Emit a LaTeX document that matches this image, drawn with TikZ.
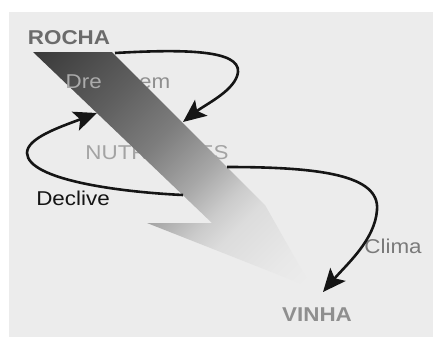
\documentclass[tikz,border=0pt]{standalone}
\usepackage{fontspec}
\setmainfont{Liberation Sans}[FakeStretch=1.12]
\usetikzlibrary{arrows.meta}

\definecolor{paper}{HTML}{ECECEC}
\definecolor{titlegray}{HTML}{6B6B6B}
\definecolor{softgray}{HTML}{8F8F8F}
\definecolor{palegray}{HTML}{A3A3A3}
\definecolor{inkblack}{HTML}{151515}

% gradient of the big lightning arrow, dark at the tail, fading out at the tip
\pgfdeclareverticalshading{boltshade}{100bp}{%
  color(0bp)=(paper); color(16bp)=(paper);
  color(22bp)=(rgb,255:red,232;green,232;blue,232);
  color(33bp)=(rgb,255:red,220;green,220;blue,220);
  color(38bp)=(rgb,255:red,203;green,203;blue,203);
  color(45bp)=(rgb,255:red,168;green,168;blue,168);
  color(50bp)=(rgb,255:red,148;green,148;blue,148);
  color(56bp)=(rgb,255:red,125;green,125;blue,125);
  color(68bp)=(rgb,255:red,95;green,95;blue,95);
  color(75bp)=(rgb,255:red,80;green,80;blue,80);
  color(86bp)=(rgb,255:red,56;green,56;blue,56);
  color(100bp)=(rgb,255:red,56;green,56;blue,56)}

\begin{document}
\begin{tikzpicture}[x=1bp,y=-1bp,
  lbl/.style={inner sep=0pt, anchor=base, font=\fontsize{20bp}{22bp}\selectfont},
  title/.style={lbl, text=titlegray, font=\fontsize{20bp}{22bp}\selectfont\bfseries},
  cycle/.style={draw=inkblack, line width=2.6bp,
    -{Stealth[length=23bp,width=20bp,inset=5bp]}}]
  \useasboundingbox (0,0) rectangle (433,337);
  \fill[white] (0,0) rectangle (433,337);
  \fill[paper] (9,12) rectangle (433,337);

  % labels lying under the arrow
  \node[lbl, text=softgray] (drenagem) at (118,88) {Drenagem};
  \node[lbl, text=palegray] (nutrientes) at (157,159) {NUTRIENTES};

  % the lightning arrow from rock to vine
  \shade[shading=boltshade, shading angle=45]
    (33,52) -- (112,52) -- (265,205) -- (312,288) -- (147,223) -- (212,223) -- cycle;

  % the first letters of "Drenagem" stay readable on the dark arrow
  \begin{scope}
    \clip (64,70) rectangle (100,93);
    \node[lbl, text=softgray!75!white] (drenagemfront) at (118,88) {Drenagem};
  \end{scope}

  \node[title] (rocha) at (69,44) {ROCHA};
  \node[title, text=softgray] (vinha) at (317,321) {VINHA};
  \node[lbl, text=inkblack] (declive) at (73,205) {Declive};
  \node[lbl, text=softgray!85!black] (clima) at (393,253) {Clima};

  % loop ends on the arrow edges
  \coordinate (drenA) at (115,53);
  \coordinate (drenB) at (183,122);
  \coordinate (decA) at (183,195);
  \coordinate (decB) at (97,113);
  \coordinate (climA) at (227,167);
  \coordinate (climB) at (323,292);

  \draw[cycle] (drenA) .. controls (185,49) and (240,50) .. (238,72)
    .. controls (236,90) and (206,104) .. (drenB);
  \draw[cycle] (decA) .. controls (120,192) and (28,180) .. (27,153)
    .. controls (27,138) and (60,127) .. (decB);
  \draw[cycle] (climA) .. controls (320,167) and (380,175) .. (377,210)
    .. controls (375,240) and (346,265) .. (climB);
\end{tikzpicture}
\end{document}
